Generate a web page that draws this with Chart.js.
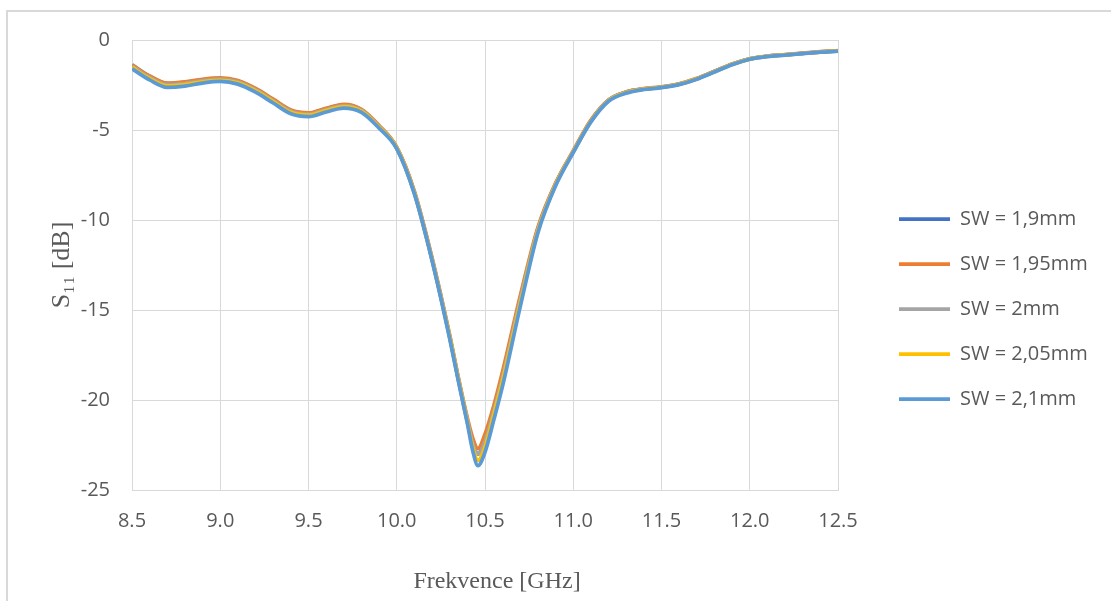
<!DOCTYPE html>
<html>
<head>
<meta charset="utf-8">
<script src="https://cdn.jsdelivr.net/npm/chart.js@4/dist/chart.umd.min.js"></script>
<style>
  html, body { margin: 0; padding: 0; background: #ffffff; }
  #wrap { position: relative; width: 1111px; height: 601px; overflow: hidden; }
  #frame { position: absolute; left: 6px; top: 10px; width: 1200px; height: 700px;
           border-left: 2px solid #d9d9d9; border-top: 2px solid #d9d9d9; box-sizing: border-box; }
  canvas { position: absolute; left: 0; top: 0; }
</style>
</head>
<body>
<div id="wrap">
  <div id="frame"></div>
  <canvas id="c" width="1111" height="601"></canvas>
</div>
<script>
// Frequency axis (GHz)
const freq = [8.5, 8.6, 8.7, 8.8, 8.9, 9.0, 9.1, 9.2, 9.3, 9.4, 9.5, 9.6, 9.7, 9.8, 9.9, 10.0,
  10.1, 10.2, 10.3, 10.35, 10.4, 10.43, 10.46, 10.5, 10.55, 10.6, 10.7, 10.8, 10.9, 11.0,
  11.1, 11.2, 11.3, 11.4, 11.5, 11.6, 11.7, 11.8, 11.9, 12.0, 12.1, 12.2, 12.3, 12.4, 12.5];

// S11 [dB] for each slot width
const sw190 = [-1.40, -2.02, -2.43, -2.36, -2.21, -2.14, -2.28, -2.72, -3.32, -3.92, -4.08, -3.82, -3.60, -3.88, -4.80, -6.00,
  -8.50, -12.2, -16.5, -18.9, -21.2, -22.4, -23.0, -22.2, -20.6, -18.6, -14.4, -10.5, -8.0, -6.2,
  -4.50, -3.35, -2.90, -2.72, -2.62, -2.45, -2.15, -1.75, -1.35, -1.05, -0.90, -0.82, -0.74, -0.66, -0.60];
const sw195 = [-1.38, -2.00, -2.40, -2.33, -2.18, -2.11, -2.25, -2.69, -3.29, -3.89, -4.05, -3.79, -3.57, -3.85, -4.75, -5.95,
  -8.40, -12.1, -16.4, -18.8, -21.0, -22.1, -22.7, -21.9, -20.3, -18.4, -14.2, -10.4, -7.95, -6.15,
  -4.45, -3.33, -2.88, -2.70, -2.60, -2.43, -2.13, -1.73, -1.33, -1.04, -0.89, -0.81, -0.73, -0.65, -0.59];
const sw200 = [-1.45, -2.07, -2.48, -2.41, -2.26, -2.18, -2.32, -2.76, -3.36, -3.96, -4.12, -3.86, -3.64, -3.90, -4.80, -5.98,
  -8.45, -12.15, -16.45, -18.85, -21.1, -22.4, -23.0, -22.3, -20.6, -18.7, -14.4, -10.5, -8.0, -6.2,
  -4.50, -3.35, -2.90, -2.72, -2.62, -2.45, -2.15, -1.75, -1.35, -1.05, -0.90, -0.82, -0.74, -0.66, -0.60];
const sw205 = [-1.52, -2.14, -2.55, -2.48, -2.32, -2.24, -2.38, -2.82, -3.42, -4.02, -4.18, -3.92, -3.70, -3.95, -4.85, -6.00,
  -8.50, -12.2, -16.5, -18.9, -21.2, -22.6, -23.35, -22.6, -20.8, -18.9, -14.6, -10.6, -8.05, -6.22,
  -4.52, -3.37, -2.92, -2.73, -2.63, -2.46, -2.16, -1.76, -1.36, -1.06, -0.91, -0.83, -0.75, -0.67, -0.61];
const sw210 = [-1.60, -2.22, -2.63, -2.56, -2.39, -2.30, -2.45, -2.90, -3.50, -4.10, -4.26, -4.00, -3.78, -4.02, -4.90, -6.05,
  -8.55, -12.25, -16.6, -19.0, -21.3, -22.8, -23.65, -22.9, -21.1, -19.2, -14.8, -10.7, -8.1, -6.25,
  -4.55, -3.40, -2.95, -2.75, -2.65, -2.48, -2.18, -1.78, -1.38, -1.07, -0.92, -0.84, -0.76, -0.68, -0.62];

const seriesNames = ['SW = 1,9mm', 'SW = 1,95mm', 'SW = 2mm', 'SW = 2,05mm', 'SW = 2,1mm'];
const seriesValues = [sw190, sw195, sw200, sw205, sw210];
const seriesColors = ['#4472C4', '#ED7D31', '#A5A5A5', '#FFC000', '#5B9BD5'];

const xTicks = [8.5, 9.0, 9.5, 10.0, 10.5, 11.0, 11.5, 12.0, 12.5];
const yTicks = [0, -5, -10, -15, -20, -25];

const textColor = '#595959';
const gridColor = '#d9d9d9';

const datasets = seriesValues.map((vals, i) => ({
  label: seriesNames[i],
  data: freq.map((f, k) => ({ x: f, y: vals[k] })),
  borderColor: seriesColors[i],
  backgroundColor: seriesColors[i],
  borderWidth: 3.75,
  pointRadius: 0,
  pointHoverRadius: 0,
  fill: false,
  tension: 0.4,
  cubicInterpolationMode: 'monotone',
  order: seriesValues.length - 1 - i
}));

const legendLayout = {
  id: 'legendLayout',
  beforeLayout(chart) {
    const lg = chart.legend;
    if (lg && !lg._fixedFit) {
      const orig = lg.fit;
      lg.fit = function () { orig.call(this); this.width = 273; };
      lg._fixedFit = true;
    }
  },
  afterLayout(chart) {
    const lg = chart.legend;
    if (lg) {
      lg.left = 874;
      lg.right = 1111;
      lg.top = 184;
    }
  }
};

new Chart(document.getElementById('c'), {
  type: 'line',
  data: { datasets },
  plugins: [legendLayout],
  options: {
    responsive: false,
    animation: false,
    events: [],
    layout: { padding: { left: 10, top: 40, right: 0, bottom: 0 } },
    plugins: {
      tooltip: { enabled: false },
      legend: {
        position: 'right',
        align: 'start',
        labels: {
          usePointStyle: true,
          pointStyle: 'line',
          pointStyleWidth: 51,
          padding: 25,
          color: textColor,
          font: { family: '"Open Sans", sans-serif', size: 20 },
          sort: (a, b) => a.datasetIndex - b.datasetIndex
        }
      }
    },
    scales: {
      x: {
        type: 'linear',
        min: 8.5,
        max: 12.5,
        afterBuildTicks: (axis) => { axis.ticks = xTicks.map(v => ({ value: v })); },
        ticks: {
          color: textColor,
          padding: 19,
          maxRotation: 0,
          font: { family: '"Open Sans", sans-serif', size: 20 },
          callback: (v) => Number(v).toFixed(1)
        },
        grid: { color: gridColor, lineWidth: 1, drawTicks: false },
        border: { color: gridColor, width: 1 },
        title: {
          display: true,
          text: '    Frekvence [GHz]',
          color: textColor,
          font: { family: '"Liberation Serif", "Times New Roman", serif', size: 24 },
          padding: { top: 0, bottom: 5 }
        },
        afterFit: (axis) => { axis.height = 111; }
      },
      y: {
        type: 'linear',
        min: -25,
        max: 0,
        afterBuildTicks: (axis) => { axis.ticks = yTicks.map(v => ({ value: v })); },
        ticks: {
          color: textColor,
          padding: 22,
          font: { family: '"Open Sans", sans-serif', size: 20 }
        },
        grid: { color: gridColor, lineWidth: 1, drawTicks: false },
        border: { color: gridColor, width: 1 },
        title: {
          display: true,
          text: 'S\u2081\u2081 [dB]',
          color: textColor,
          font: { family: '"Liberation Serif", "Times New Roman", serif', size: 26 },
          padding: { top: 37, bottom: 0 }
        },
        afterFit: (axis) => { axis.width = 122; }
      }
    }
  }
});
</script>
</body>
</html>
